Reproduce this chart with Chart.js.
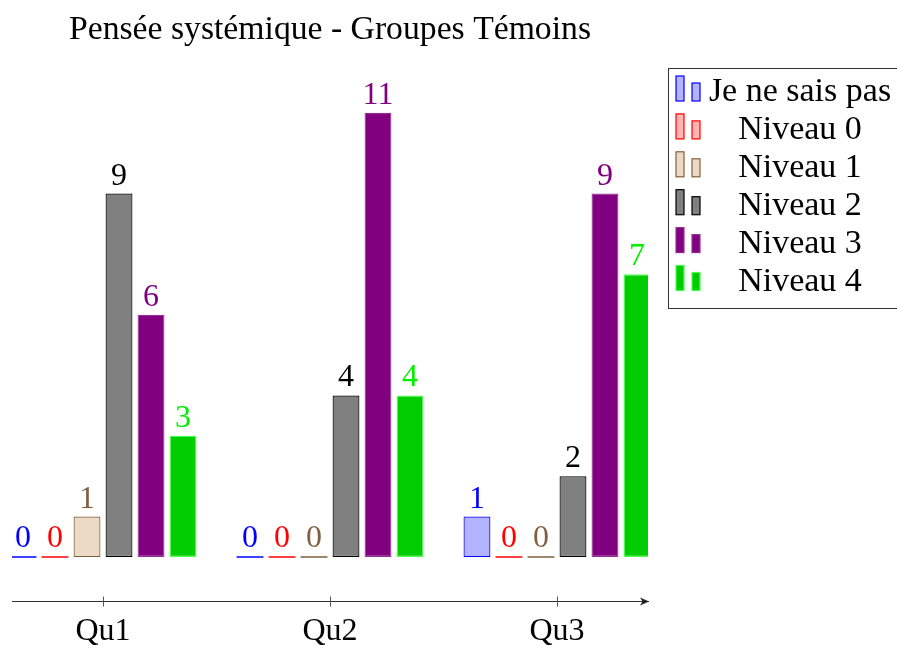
<!DOCTYPE html>
<html>
<head>
<meta charset="utf-8">
<title>Pensée systémique - Groupes Témoins</title>
<script src="https://cdn.jsdelivr.net/npm/chart.js@4/dist/chart.umd.min.js"></script>
<style>
  html, body { margin:0; padding:0; background:#fff; }
  #wrap { width:897px; height:646px; position:relative; }
</style>
</head>
<body>
<div id="wrap"><canvas id="chart"></canvas></div>
<script>
// ── Data ─────────────────────────────────────────────
const categories  = ['Qu1', 'Qu2', 'Qu3'];
const seriesNames = ['Je ne sais pas', 'Niveau 0', 'Niveau 1', 'Niveau 2', 'Niveau 3', 'Niveau 4'];
const jeNeSaisPas = [0, 0, 1];
const niveau0     = [0, 0, 0];
const niveau1     = [1, 0, 0];
const niveau2     = [9, 4, 2];
const niveau3     = [6, 11, 9];
const niveau4     = [3, 4, 7];
const titleText   = 'Pensée systémique - Groupes Témoins';

// ── Styles ───────────────────────────────────────────
const FONT = "'Liberation Serif', 'DejaVu Serif', serif";
const FS = 32;
const fills   = ['#b3b3ff', '#ffb3b3', '#ecdac7', '#808080', '#800080', '#00cc00'];
const borders = ['#0000ff', '#ff0000', '#80603f', '#000000', '#963296', '#4dff4d'];
const labelCols = ['#0000ff', '#ff0000', '#80603f', '#000000', '#800080', '#00f000'];

const series = [jeNeSaisPas, niveau0, niveau1, niveau2, niveau3, niveau4];

const datasets = series.map((vals, i) => ({
  label: seriesNames[i],
  data: vals.map((v, j) => ({ x: j + 1, y: v })),
  backgroundColor: ctx => (ctx.raw && ctx.raw.y === 0) ? borders[i] : fills[i],
  borderColor: borders[i],
  borderWidth: ctx => (ctx.raw && ctx.raw.y === 0) ? 0 : 1.2,
  borderSkipped: false,
  minBarLength: 1.5,
  categoryPercentage: 0.846,
  barPercentage: 0.84,
}));

// value labels above bars
const valueLabels = {
  id: 'valueLabels',
  afterDatasetsDraw(chart) {
    const ctx = chart.ctx;
    ctx.save();
    ctx.font = `${FS}px ${FONT}`;
    ctx.textAlign = 'center';
    ctx.textBaseline = 'alphabetic';
    chart.data.datasets.forEach((ds, i) => {
      chart.getDatasetMeta(i).data.forEach((el, j) => {
        ctx.fillStyle = labelCols[i];
        ctx.fillText(String(ds.data[j].y), el.x, Math.min(el.y, el.base) - 9);
      });
    });
    ctx.restore();
  }
};

// arrow at end of x axis + legend box
const extras = {
  id: 'extras',
  afterDraw(chart) {
    const ctx = chart.ctx;
    const a = chart.chartArea;
    ctx.save();
    // arrow head
    const y = a.bottom + 0.5, x = a.right;
    ctx.fillStyle = '#222';
    ctx.beginPath();
    ctx.moveTo(x + 1, y);
    ctx.lineTo(x - 8, y - 4);
    ctx.lineTo(x - 5.5, y);
    ctx.lineTo(x - 8, y + 4);
    ctx.closePath();
    ctx.fill();
    // tick marks crossing the axis
    ctx.strokeStyle = '#555';
    ctx.lineWidth = 1;
    categories.forEach((_, i) => {
      const px = Math.round(chart.scales.x.getPixelForValue(i + 1)) + 0.5;
      ctx.beginPath();
      ctx.moveTo(px, y - 5);
      ctx.lineTo(px, y + 5);
      ctx.stroke();
    });

    // legend
    const lx = 668.5, ly = 68.5, lw = 240, lh = 240;
    ctx.strokeStyle = '#333';
    ctx.lineWidth = 1;
    ctx.strokeRect(lx, ly, lw, lh);
    ctx.font = `34px ${FONT}`;
    ctx.textAlign = 'center';
    ctx.textBaseline = 'alphabetic';
    chart.data.datasets.forEach((ds, i) => {
      const base = 101 + i * 37.9;
      ctx.fillStyle = fills[i];
      ctx.strokeStyle = borders[i];
      ctx.lineWidth = 1.2;
      ctx.fillRect(676, base - 25, 8, 25);
      ctx.strokeRect(676, base - 25, 8, 25);
      ctx.fillRect(692, base - 18, 8, 18);
      ctx.strokeRect(692, base - 18, 8, 18);
      ctx.fillStyle = '#000';
      ctx.fillText(ds.label, 800, base);
    });
    ctx.restore();
  }
};

new Chart(document.getElementById('chart'), {
  type: 'bar',
  data: { datasets },
  options: {
    responsive: true,
    maintainAspectRatio: false,
    animation: false,
    layout: { padding: { left: 12, right: 249, top: 0, bottom: 0 } },
    plugins: {
      legend: { display: false },
      tooltip: { enabled: false },
      title: {
        display: true, text: titleText, fullSize: false,
        color: '#000', font: { family: FONT, size: 33.7, weight: 'normal', lineHeight: 1.2 },
        padding: { top: 10, bottom: 16 }
      }
    },
    scales: {
      x: {
        type: 'linear',
        offset: false,
        min: 0.599, max: 3.401,
        afterBuildTicks: s => { s.ticks = categories.map((_, i) => ({ value: i + 1 })); },
        afterFit: s => { s.height = 45; },
        ticks: {
          callback: v => categories[v - 1] || '',
          color: '#000', font: { family: FONT, size: FS, lineHeight: 1.0 }, padding: 10, maxRotation: 0
        },
        grid: { display: true, offset: false, drawOnChartArea: false, drawTicks: true, tickLength: 5, color: 'rgba(0,0,0,0)' },
        border: { display: true, color: '#333', width: 1 }
      },
      y: {
        display: false,
        min: -1.09, max: 12.15
      }
    }
  },
  plugins: [valueLabels, extras]
});
</script>
</body>
</html>
